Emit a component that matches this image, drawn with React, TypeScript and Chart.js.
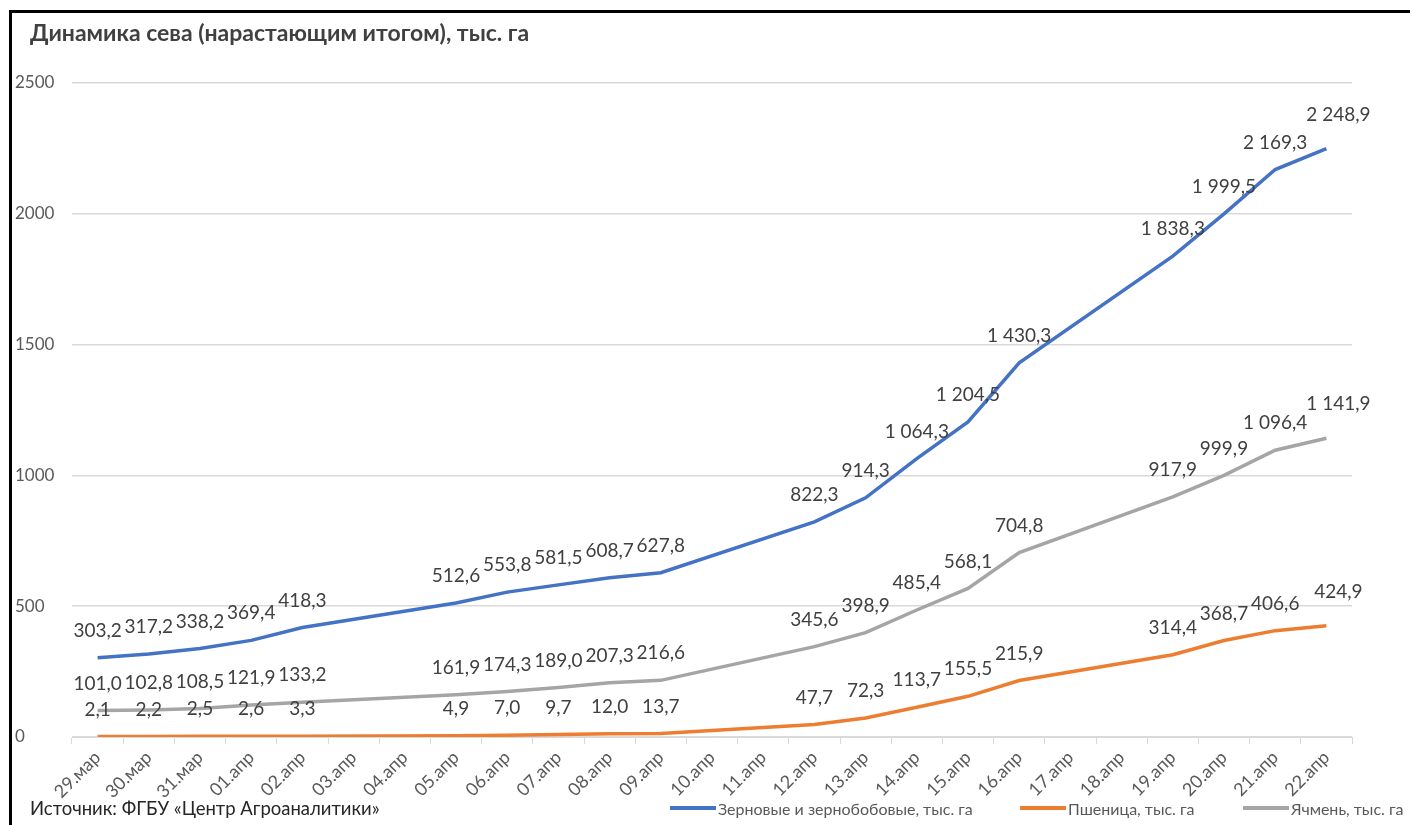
import React, { useEffect, useRef } from "react";
import { Chart, registerables } from "chart.js";

Chart.register(...registerables);

const dates = [
  "29.мар", "30.мар", "31.мар", "01.апр", "02.апр", "03.апр", "04.апр",
  "05.апр", "06.апр", "07.апр", "08.апр", "09.апр", "10.апр", "11.апр",
  "12.апр", "13.апр", "14.апр", "15.апр", "16.апр", "17.апр", "18.апр",
  "19.апр", "20.апр", "21.апр", "22.апр",
];

const grainValues = [
  303.2, 317.2, 338.2, 369.4, 418.3, null, null,
  512.6, 553.8, 581.5, 608.7, 627.8, null, null,
  822.3, 914.3, 1064.3, 1204.5, 1430.3, null, null,
  1838.3, 1999.5, 2169.3, 2248.9,
];

const wheatValues = [
  2.1, 2.2, 2.5, 2.6, 3.3, null, null,
  4.9, 7.0, 9.7, 12.0, 13.7, null, null,
  47.7, 72.3, 113.7, 155.5, 215.9, null, null,
  314.4, 368.7, 406.6, 424.9,
];

const barleyValues = [
  101.0, 102.8, 108.5, 121.9, 133.2, null, null,
  161.9, 174.3, 189.0, 207.3, 216.6, null, null,
  345.6, 398.9, 485.4, 568.1, 704.8, null, null,
  917.9, 999.9, 1096.4, 1141.9,
];

const seriesNames = [
  "Зерновые и зернобобовые, тыс. га",
  "Пшеница, тыс. га",
  "Ячмень, тыс. га",
];
const seriesColors = ["#4472C4", "#ED7D31", "#A5A5A5"];
const yTicks = [0, 500, 1000, 1500, 2000, 2500];

const titleText = "Динамика сева (нарастающим итогом), тыс. га";
const sourceText = "Источник: ФГБУ «Центр Агроаналитики»";

const FONT = "Lato, 'Open Sans', sans-serif";

function fmt(v: number): string {
  const [i, d] = v.toFixed(1).split(".");
  return i.replace(/\B(?=(\d{3})+(?!\d))/g, " ") + "," + d;
}

const dataLabelPlugin = {
  id: "dataLabels",
  afterDatasetsDraw(chart: any) {
    const ctx = chart.ctx;
    ctx.save();
    ctx.font = `19px ${FONT}`;
    ctx.fillStyle = "#404040";
    ctx.textAlign = "center";
    ctx.textBaseline = "middle";
    chart.data.datasets.forEach((ds: any, di: number) => {
      const meta = chart.getDatasetMeta(di);
      const last = ds.data.length - 1;
      meta.data.forEach((pt: any, i: number) => {
        const v = ds.data[i];
        if (v === null || v === undefined) return;
        const dx = i === last ? 12 : 0;
        const dy = i === last ? -34 : -27;
        ctx.fillText(fmt(v), pt.x + dx, pt.y + dy);
      });
    });
    ctx.restore();
  },
};

export default function App() {
  const canvasRef = useRef<HTMLCanvasElement | null>(null);

  useEffect(() => {
    if (!canvasRef.current) return;
    const chart = new Chart(canvasRef.current, {
      type: "line",
      data: {
        labels: dates,
        datasets: [
          { label: seriesNames[0], data: grainValues },
          { label: seriesNames[1], data: wheatValues },
          { label: seriesNames[2], data: barleyValues },
        ].map((d, i) => ({
          ...d,
          borderColor: seriesColors[i],
          backgroundColor: seriesColors[i],
          borderWidth: 3.5,
          pointRadius: 0,
          pointHoverRadius: 0,
          tension: 0,
          spanGaps: true,
          fill: false,
        })) as any,
      },
      options: {
        animation: false,
        responsive: false,
        maintainAspectRatio: false,
        layout: { padding: { left: 3, right: 58, top: 70, bottom: 0 } },
        plugins: {
          legend: { display: false },
          title: { display: false },
          tooltip: { enabled: false },
        },
        scales: {
          x: {
            type: "category",
            offset: true,
            grid: {
              offset: true,
              drawOnChartArea: false,
              drawTicks: true,
              tickLength: 7,
              color: "#D9D9D9",
            },
            border: { display: true, color: "#D9D9D9", width: 1 },
            ticks: {
              minRotation: 45,
              maxRotation: 45,
              autoSkip: false,
              padding: 3,
              color: "#595959",
              font: { family: FONT, size: 18 },
            },
            afterFit: (scale: any) => {
              scale.height = 88;
            },
          },
          y: {
            min: 0,
            max: 2500,
            afterBuildTicks: (scale: any) => {
              scale.ticks = yTicks.map((v) => ({ value: v }));
            },
            grid: { color: "#D9D9D9", drawTicks: false, lineWidth: 1.5 },
            border: { display: false },
            ticks: {
              crossAlign: "far",
              padding: 0,
              color: "#595959",
              font: { family: FONT, size: 17 },
              callback: (v: any) => String(v),
            },
            afterFit: (scale: any) => {
              scale.width = 57;
            },
          },
        },
      },
      plugins: [dataLabelPlugin],
    });
    return () => chart.destroy();
  }, []);

  const legendLefts = [658, 1008, 1231];

  return (
    <div
      style={{
        position: "absolute",
        left: 9,
        top: 10,
        width: 1401,
        height: 815,
        boxSizing: "border-box",
        borderTop: "3px solid #000",
        borderLeft: "3px solid #000",
        background: "#fff",
        overflow: "hidden",
        fontFamily: FONT,
      }}
    >
      <canvas
        ref={canvasRef}
        width={1398}
        height={812}
        style={{ position: "absolute", left: 0, top: 0, width: 1398, height: 812 }}
      />
      <div
        style={{
          position: "absolute",
          left: 18,
          top: 6,
          lineHeight: "26px",
          fontSize: 23,
          fontWeight: 700,
          color: "#404040",
          whiteSpace: "nowrap",
        }}
      >
        {titleText}
      </div>
      <div
        style={{
          position: "absolute",
          left: 18,
          top: 784,
          lineHeight: "22px",
          fontSize: 18.5,
          color: "#262626",
          whiteSpace: "nowrap",
        }}
      >
        {sourceText}
      </div>
      {seriesNames.map((name, i) => (
        <div
          key={name}
          style={{
            position: "absolute",
            left: legendLefts[i],
            top: 784,
            height: 22,
            display: "flex",
            alignItems: "center",
            whiteSpace: "nowrap",
          }}
        >
          <span
            style={{
              display: "inline-block",
              width: 46,
              height: 4,
              background: seriesColors[i],
              marginRight: 2,
            }}
          />
          <span style={{ fontSize: 16, color: "#595959" }}>{name}</span>
        </div>
      ))}
    </div>
  );
}
